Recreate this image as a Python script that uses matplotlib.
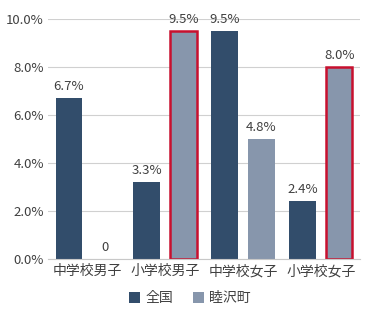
import matplotlib
matplotlib.use("Agg")
import matplotlib.pyplot as plt
import numpy as np

plt.rcParams['font.family'] = ['Noto Sans CJK JP', 'DejaVu Sans']

categories = ['中学校男子', '小学校男子', '中学校女子', '小学校女子']
series_names = ['全国', '睦沢町']
national = [6.7, 3.2, 9.5, 2.4]
national_labels = ['6.7%', '3.3%', '9.5%', '2.4%']
mutsuzawa = [0.0, 9.5, 5.0, 8.0]
mutsuzawa_labels = ['0', '9.5%', '4.8%', '8.0%']
highlight = [False, True, False, True]
yticks = [0, 2, 4, 6, 8, 10]
ytick_labels = ['0.0%', '2.0%', '4.0%', '6.0%', '8.0%', '10.0%']

c_nat = '#324d6b'
c_mun = '#8796ac'
c_red = '#c8102e'
txt = '#404040'

fig = plt.figure(figsize=(3.76, 3.10), dpi=100)
ax = fig.add_axes([0.128, 0.165, 0.829, 0.774])

x = np.arange(len(categories))
w = 0.34
off = 0.235
b1 = ax.bar(x - off, national, w, color=c_nat, label=series_names[0], zorder=3)
b2 = ax.bar(x + off, mutsuzawa, w, color=c_mun, label=series_names[1], zorder=3)
for bar, h in zip(b2, highlight):
    if h:
        bar.set_edgecolor(c_red)
        bar.set_linewidth(1.8)

for bars, labs in ((b1, national_labels), (b2, mutsuzawa_labels)):
    for bar, lab in zip(bars, labs):
        ax.text(bar.get_x() + bar.get_width() / 2, bar.get_height() + 0.2, lab,
                ha='center', va='bottom', fontsize=9.5, color=txt, clip_on=False)

ax.set_ylim(0, 10)
ax.set_xlim(-0.5, 3.5)
ax.set_yticks(yticks)
ax.set_yticklabels(ytick_labels, fontsize=9.5, color=txt)
ax.set_xticks(x)
ax.set_xticklabels(categories, fontsize=10, color=txt)
ax.tick_params(axis='both', length=0, pad=3)
ax.tick_params(axis='x', pad=4)
ax.grid(axis='y', color='#d0d0d0', linewidth=0.8, zorder=0)
for s in ['top', 'right', 'left']:
    ax.spines[s].set_visible(False)
ax.spines['bottom'].set_color('#c8c8c8')
ax.spines['bottom'].set_zorder(4)

leg = fig.legend(handles=[b1, b2], labels=series_names, loc='lower center',
                 bbox_to_anchor=(0.505, -0.025), ncol=2, frameon=False, fontsize=10,
                 handlelength=0.8, handleheight=0.8, handletextpad=0.4, columnspacing=1.4)
for t in leg.get_texts():
    t.set_color(txt)
for p in leg.get_patches():
    p.set_edgecolor('none')
    p.set_linewidth(0)

fig.savefig('out.png', dpi=100)
